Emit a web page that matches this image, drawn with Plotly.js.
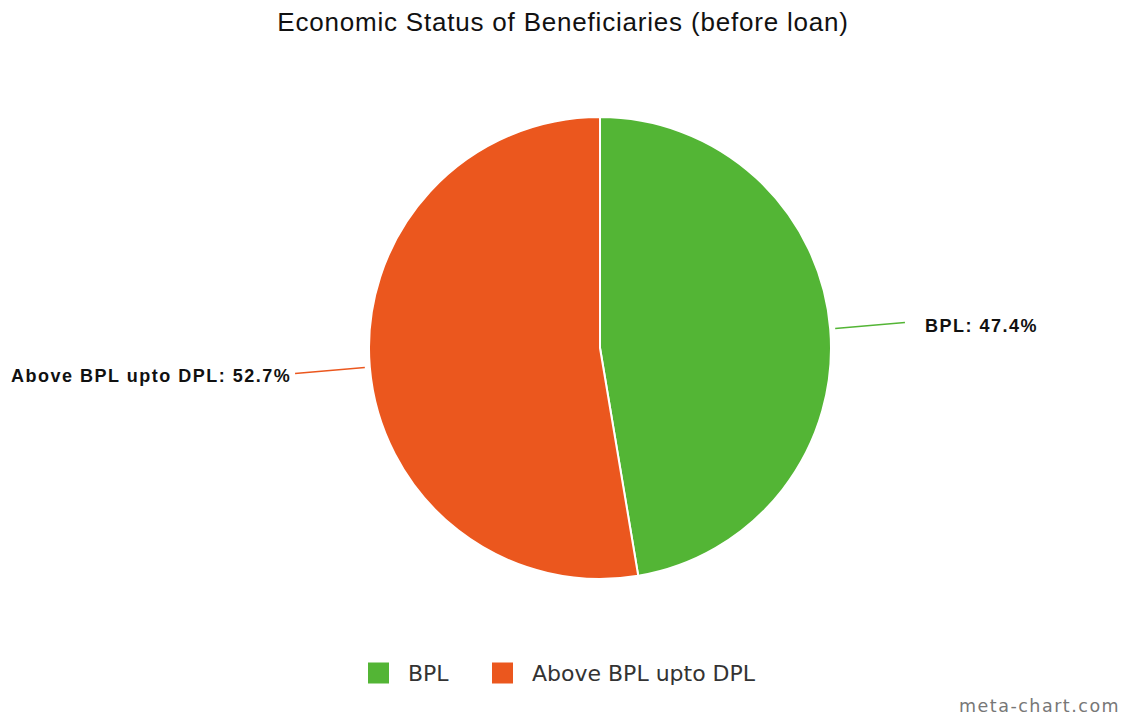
<!DOCTYPE html>
<html>
<head>
<meta charset="utf-8">
<script src="https://cdn.plot.ly/plotly-3.0.1.min.js"></script>
<style>
html,body{margin:0;padding:0;background:#fff;}
#chart{width:1126px;height:717px;}
.gtitle{letter-spacing:0.8px;}
.annotation-text{letter-spacing:1.5px;}
#chart .annotation[data-index="2"] .annotation-text,
#chart .annotation[data-index="3"] .annotation-text{letter-spacing:0;}
</style>
</head>
<body>
<div id="chart"></div>
<script>
const labels = ['BPL', 'Above BPL upto DPL'];
const values = [47.4, 52.7];
const colors = ['#53b535', '#eb571e'];
const chartTitle = 'Economic Status of Beneficiaries (before loan)';
const watermark = 'meta-chart.com';

const W = 1126, H = 717;
const cx = 600, cy = 348, R = 231;
const px = x => x / W;
const py = y => 1 - y / H;

const total = values.reduce((a, b) => a + b, 0);
const shapes = [];
const annotations = [];
let cum = 0;
values.forEach((v, i) => {
  const mid = (cum + v / 2) / total * 2 * Math.PI;
  cum += v;
  const s = Math.sin(mid), c = Math.cos(mid);
  const r0 = R + 5, r1 = R + 75;
  const x0 = cx + r0 * s, y0 = cy - r0 * c;
  const x1 = cx + r1 * s, y1 = cy - r1 * c;
  shapes.push({type: 'line', xref: 'paper', yref: 'paper',
    x0: px(x0), y0: py(y0), x1: px(x1), y1: py(y1),
    line: {color: colors[i], width: 1.5}});
  const right = s >= 0;
  annotations.push({xref: 'paper', yref: 'paper',
    x: px(x1 + (right ? 18 : -2)), y: py(y1 + 3),
    xanchor: right ? 'left' : 'right', yanchor: 'middle', showarrow: false,
    text: '<b>' + labels[i] + ': ' + v + '%</b>',
    font: {family: 'Liberation Sans, Arial, sans-serif', size: 18, color: '#111'}});
});

// custom legend (square swatches like the reference)
const legendY = 673, sw = 21;
const legendX = [368, 492];
labels.forEach((lab, i) => {
  const lx = legendX[i];
  shapes.push({type: 'rect', xref: 'paper', yref: 'paper',
    x0: px(lx), x1: px(lx + sw), y0: py(legendY + sw / 2), y1: py(legendY - sw / 2),
    fillcolor: colors[i], line: {width: 0}});
  annotations.push({xref: 'paper', yref: 'paper', x: px(lx + sw + 17), y: py(legendY),
    xanchor: 'left', yanchor: 'middle', align: 'left', showarrow: false, text: lab,
    font: {family: 'DejaVu Sans, sans-serif', size: 22, color: '#333'}});
});

annotations.push({xref: 'paper', yref: 'paper', x: px(1122), y: py(706),
  xanchor: 'right', yanchor: 'middle', showarrow: false, text: watermark,
  font: {family: 'DejaVu Sans, sans-serif', size: 17.5, color: '#777'}});

const data = [{
  type: 'pie', labels: labels, values: values, sort: false,
  direction: 'clockwise', rotation: 0,
  marker: {colors: colors, line: {color: '#ffffff', width: 2}},
  textinfo: 'none', hoverinfo: 'label+percent',
  domain: {x: [px(cx - R), px(cx + R)], y: [py(cy + R), py(cy - R)]}
}];

const layout = {
  width: W, height: H,
  margin: {l: 0, r: 0, t: 0, b: 0},
  paper_bgcolor: '#ffffff',
  title: {text: chartTitle, x: 0.5, xanchor: 'center', y: py(22), yanchor: 'middle',
    font: {family: 'Liberation Sans, Arial, sans-serif', size: 26, color: '#111'}},
  showlegend: false,
  shapes: shapes,
  annotations: annotations
};

Plotly.newPlot('chart', data, layout, {displayModeBar: false, staticPlot: true});
</script>
</body>
</html>
